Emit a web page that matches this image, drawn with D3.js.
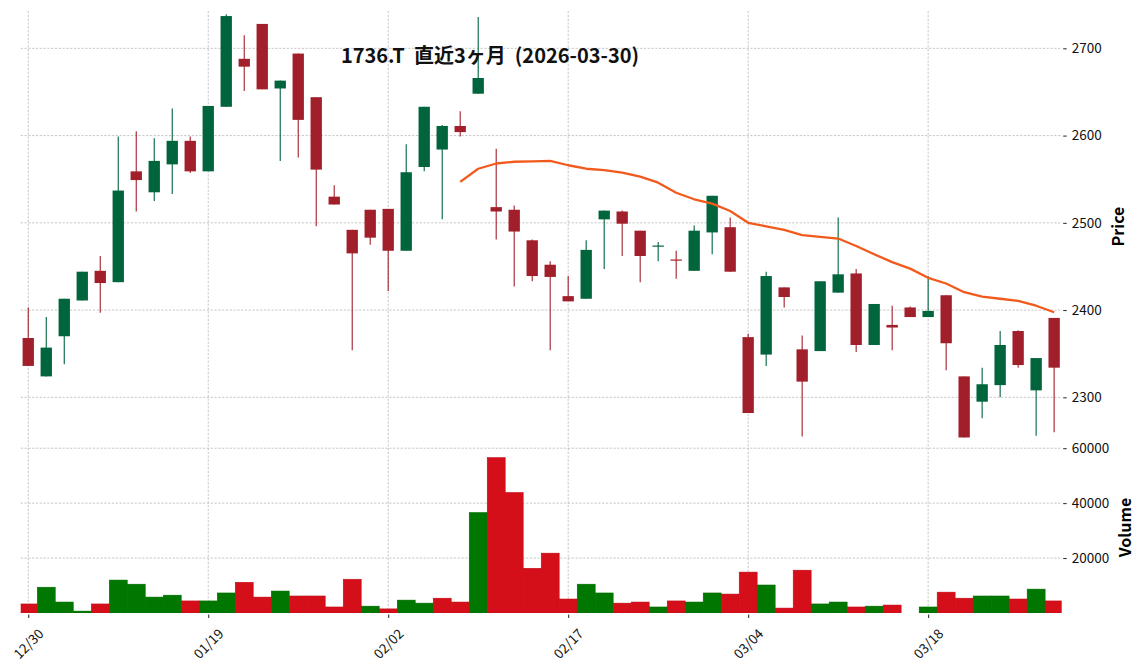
<!DOCTYPE html>
<html><head><meta charset="utf-8">
<script src="https://cdn.jsdelivr.net/npm/d3@7"></script>
<style>body{margin:0;background:#fff}svg{display:block}</style>
</head><body>
<svg id="chart" width="1144" height="670"></svg>
<script>
const dates = ["12/30","01/05","01/06","01/07","01/08","01/09","01/13","01/14","01/15","01/16",
"01/19","01/20","01/21","01/22","01/23","01/26","01/27","01/28","01/29","01/30",
"02/02","02/03","02/04","02/05","02/06","02/09","02/10","02/12","02/13","02/16",
"02/17","02/18","02/19","02/20","02/24","02/25","02/26","02/27","03/02","03/03",
"03/04","03/05","03/06","03/09","03/10","03/11","03/12","03/13","03/16","03/17",
"03/18","03/19","03/23","03/24","03/25","03/26","03/27","03/30"];
const opens = [2368,2324,2370,2411,2445,2432,2559,2535,2567,2594,2559,2633,2688,2728,2654,2694,2644,2530,2492,2515,
2516,2468,2564,2584,2611,2648,2518,2515,2480,2452,2416,2413,2504,2513,2491,2473,2458,2445,2489,2495,
2369,2349,2426,2355,2353,2420,2442,2360,2383,2403,2392,2417,2324,2295,2314,2376,2308,2391];
const highs = [2403,2392,2413,2444,2462,2599,2605,2597,2631,2599,2634,2739,2715,2728,2663,2694,2644,2543,2492,2515,
2516,2590,2633,2612,2628,2736,2585,2520,2481,2456,2439,2480,2514,2514,2491,2478,2468,2497,2531,2506,
2373,2444,2426,2371,2433,2506,2447,2407,2405,2404,2439,2417,2324,2334,2376,2377,2345,2391];
const lows = [2336,2324,2338,2411,2397,2432,2513,2525,2533,2557,2559,2633,2651,2653,2571,2575,2496,2521,2354,2475,
2422,2468,2559,2504,2599,2648,2481,2427,2433,2354,2410,2413,2447,2462,2432,2456,2436,2445,2464,2444,
2282,2336,2403,2255,2353,2420,2352,2360,2354,2392,2392,2331,2254,2276,2300,2334,2256,2260];
const closes = [2336,2357,2413,2444,2431,2537,2549,2571,2594,2559,2634,2737,2679,2653,2663,2618,2561,2521,2465,2483,
2468,2558,2633,2611,2604,2666,2513,2490,2439,2438,2410,2469,2514,2499,2462,2474,2457,2491,2531,2444,
2282,2439,2415,2318,2433,2441,2360,2407,2380,2392,2399,2362,2254,2315,2360,2337,2345,2334];
const volumes = [3300,9400,4000,700,3300,12000,10500,5800,6500,4400,4400,7300,11200,5800,8000,6200,6200,2200,12300,2500,
1500,4700,3600,5400,4000,36600,56600,43900,16300,21800,5100,10500,7300,3600,4000,2200,4400,4000,7300,6900,
14900,10200,1800,15600,3300,4000,2200,2500,2900,0,2200,7600,5400,6200,6200,5100,8700,4400];
const maStart = 24;
const ma25 = [2547,2562,2568,2570,2570.5,2571,2566,2562,2560.5,2557.5,2553,2546,2534.5,2527,2522,2513.5,2500,2496,2492,2486,
2484,2482,2473.5,2464,2455,2447.5,2437,2430.5,2420.5,2415.5,2413,2410.5,2405,2397.5];
const xTickIdx = [0,10,20,30,40,50];
const priceTicks = [2300,2400,2500,2600,2700];
const volTicks = [20000,40000,60000];
const title = "1736.T  直近3ヶ月  (2026-03-30)";

const L = 20.7, R = 1061.7, PT = 11, PB = 442, VT = 442, VB = 613;
const C_UP = "#00643c", C_DN = "#a11f2a", V_UP = "#007700", V_DN = "#d40f1a", C_MA = "#f25a1c";
const svg = d3.select("#chart");
const x = d3.scaleLinear().domain([-0.42, dates.length - 1 + 0.42]).range([L, R]);
const y = d3.scaleLinear().domain([2248.8, 2742.8]).range([PB, PT]);
const yv = d3.scaleLinear().domain([0, d3.max(volumes) * 1.1]).range([VB, VT]);

const defs = svg.append("defs");
defs.append("clipPath").attr("id","cp").append("rect").attr("x",L).attr("y",PT).attr("width",R-L).attr("height",PB-PT);
defs.append("clipPath").attr("id","cv").append("rect").attr("x",L).attr("y",VT).attr("width",R-L).attr("height",VB-VT);

const gridStyle = g => g.attr("stroke","#b8b8b8").attr("stroke-width",0.8).attr("stroke-dasharray","2.2,1.6");
const grid = svg.append("g");
grid.selectAll(".hp").data(priceTicks).join("line").attr("x1",L).attr("x2",R).attr("y1",d=>y(d)).attr("y2",d=>y(d)).call(gridStyle);
grid.selectAll(".hv").data(volTicks).join("line").attr("x1",L).attr("x2",R).attr("y1",d=>yv(d)).attr("y2",d=>yv(d)).call(gridStyle);
grid.selectAll(".vx").data(xTickIdx).join("line").attr("x1",d=>x(d)).attr("x2",d=>x(d)).attr("y1",PT).attr("y2",VB).call(gridStyle);

const ohlc = dates.map((d,i)=>({i, o:opens[i], h:highs[i], l:lows[i], c:closes[i], v:volumes[i]}));
const cg = svg.append("g").attr("clip-path","url(#cp)");
const bw = x(0.315) - x(0);
cg.selectAll("line.w").data(ohlc).join("line")
  .attr("x1",d=>x(d.i)).attr("x2",d=>x(d.i)).attr("y1",d=>y(d.h)).attr("y2",d=>y(d.l))
  .attr("stroke",d=>d.c>=d.o?C_UP:C_DN).attr("stroke-width",1.1);
cg.selectAll("rect.b").data(ohlc).join("rect")
  .attr("x",d=>x(d.i)-bw).attr("width",2*bw)
  .attr("y",d=>y(Math.max(d.o,d.c))).attr("height",d=>Math.max(1.2, Math.abs(y(d.o)-y(d.c))))
  .attr("fill",d=>d.c>=d.o?C_UP:C_DN);

const maData = ma25.map((v,k)=>({i:k+maStart, v}));
cg.append("path").datum(maData)
  .attr("d", d3.line().x(d=>x(d.i)).y(d=>y(d.v)))
  .attr("fill","none").attr("stroke",C_MA).attr("stroke-width",2.3).attr("stroke-linejoin","round");

const vg = svg.append("g").attr("clip-path","url(#cv)");
const vw = x(0.5) - x(0);
const vUp = d => d.i===0 ? d.c>=d.o : d.c>=closes[d.i-1];
vg.selectAll("rect").data(ohlc.filter(d=>d.v>0)).join("rect")
  .attr("x",d=>x(d.i)-vw).attr("width",2*vw)
  .attr("y",d=>yv(d.v)).attr("height",d=>yv(0)-yv(d.v))
  .attr("fill",d=>vUp(d)?V_UP:V_DN)
  .attr("stroke",d=>vUp(d)?"#006a00":"#bd0d17")
  .attr("stroke-width",0.5);

const tickFont = "'Noto Sans CJK JP', sans-serif";
const ap = svg.append("g").attr("transform",`translate(${R},0)`)
  .call(d3.axisRight(y).tickValues(priceTicks).tickSize(5).tickPadding(5).tickFormat(d3.format("d")));
const av = svg.append("g").attr("transform",`translate(${R},0)`)
  .call(d3.axisRight(yv).tickValues(volTicks).tickSize(5).tickPadding(5).tickFormat(d3.format("d")));
[ap,av].forEach(a=>{
  a.select(".domain").remove();
  a.selectAll(".tick line").attr("x1",1.5).attr("stroke","#222");
  a.selectAll("text").attr("font-family",tickFont).attr("font-size",13.5).attr("fill","#111");
});
const ax = svg.append("g").attr("transform",`translate(0,${VB})`)
  .call(d3.axisBottom(x).tickValues(xTickIdx).tickSize(5).tickFormat(i=>dates[i]));
ax.select(".domain").remove();
ax.selectAll(".tick line").attr("y1",1.5).attr("stroke","#222");
ax.selectAll("text").attr("font-family",tickFont).attr("font-size",13.5).attr("fill","#111")
  .attr("text-anchor","middle").attr("dy",null).attr("y",null)
  .attr("transform","translate(-1,30) rotate(-45)").attr("dominant-baseline","central");

const lblFont = "'Noto Sans CJK JP', sans-serif";
svg.append("text").attr("transform",`translate(1124,${(PT+PB)/2}) rotate(-90)`)
  .attr("text-anchor","middle").attr("font-family",lblFont).attr("font-weight","bold").attr("font-size",16).text("Price");
svg.append("text").attr("transform",`translate(1131,${(VT+VB)/2}) rotate(-90)`)
  .attr("text-anchor","middle").attr("font-family",lblFont).attr("font-weight","bold").attr("font-size",16).text("Volume");
svg.append("text").attr("x",490).attr("y",63).attr("text-anchor","middle")
  .attr("font-family",lblFont).attr("font-weight","bold").attr("font-size",20).attr("fill","#111")
  .attr("xml:space","preserve").style("white-space","pre").text(title);
</script>
</body></html>
